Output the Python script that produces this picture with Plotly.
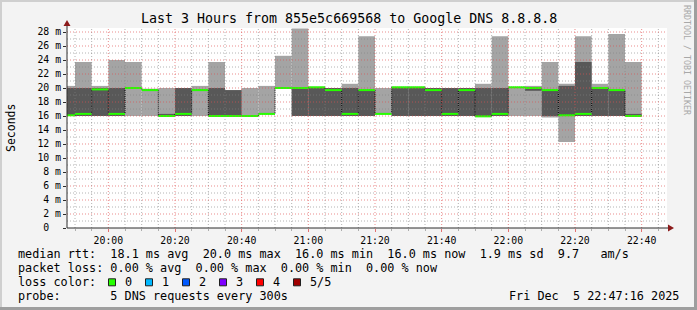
import plotly.graph_objects as go
import pandas as pd

# ---------------- data ----------------
title_text = "Last 3 Hours from 855e5c669568 to Google DNS 8.8.8.8"
first_bin_start = "2025-12-05 19:45:00"
step_seconds = 300
view_start = "2025-12-05 19:47:36"
view_end = "2025-12-05 22:47:36"

# five sorted pings per 5-minute bin (ms)
ping_min = [16, 16, 16, 16, 16, 16, 16, 16, 16, 16, 16, 16, 16.3, 20, 16, 16, 16, 16,
            16, 16.3, 16, 16, 16, 16, 16, 15.9, 16, 16, 16, 15.8, 12.3, 16, 16, 16, 16]
ping_lo = [16, 16, 16, 16, 20, 19.7, 16, 16, 19.7, 16, 16, 16, 16.3, 20, 16, 16, 16, 16,
           16, 16.3, 16, 16, 16, 16, 16, 15.9, 16, 20.1, 19.6, 16, 16, 16, 16, 16, 16]
median = [16.1, 16.3, 19.8, 16.3, 20.0, 19.7, 16.0, 16.3, 19.7, 16.0, 16.0, 16.0, 16.3, 20.0,
          20.0, 20.1, 19.7, 16.3, 19.7, 16.3, 20.1, 20.1, 19.7, 16.3, 19.7, 15.95, 16.3, 20.1,
          20.0, 19.7, 16.1, 16.3, 20.0, 19.7, 16.0]
ping_hi = [20, 20, 20, 20, 20, 19.7, 16.3, 20, 19.7, 20, 19.7, 16, 16.3, 20, 20, 20.1, 20, 20,
           19.7, 16.3, 20.1, 20.1, 20, 20, 20, 20, 20, 20.1, 20.0, 19.7, 20.3, 23.7, 20.1, 19.7, 16.3]
ping_max = [20.3, 23.7, 20.3, 24.0, 23.7, 19.9, 20.0, 20, 20.3, 23.7, 19.7, 20.0, 20.3, 24.6,
            28.5, 20.1, 20, 20.6, 27.4, 20.0, 20.1, 20.1, 20, 20, 20, 20.6, 27.4, 20.1, 20.3, 23.7,
            20.6, 27.4, 20.6, 27.7, 23.7]

ytick_vals = [0, 2, 4, 6, 8, 10, 12, 14, 16, 18, 20, 22, 24, 26, 28]
ytick_text = ["0\u00a0\u00a0", "2 m", "4 m", "6 m", "8 m", "10 m", "12 m", "14 m", "16 m",
              "18 m", "20 m", "22 m", "24 m", "26 m", "28 m"]

legend_rows = [
    "median rtt:  18.1 ms avg  20.0 ms max  16.0 ms min  16.0 ms now  1.9 ms sd  9.7   am/s",
    "packet loss: 0.00 % avg  0.00 % max  0.00 % min  0.00 % now",
    "loss color:",
    "probe:       5 DNS requests every 300s",
]
date_text = "Fri Dec  5 22:47:16 2025"
loss_labels = ["0", "1", "2", "3", "4", "5/5"]
loss_colors = ["#26ff00", "#00b8ff", "#0059ff", "#7e00ff", "#ff0000", "#a00000"]

# ---------------- geometry helpers ----------------
W, H = 697, 310
PL, PR, PT, PB = 67, 667, 28, 228
YMAX = (PB - PT) / 7.0


def px(x):
    return (x - PL) / (PR - PL)


def py(y):
    return (PB - y) / (PB - PT)


MONO = "DejaVu Sans Mono"
LIGHT = "#a4a4a4"
DARK = "#585858"
GREEN = "#26ff00"

n = len(median)
starts = pd.date_range(first_bin_start, periods=n, freq=f"{step_seconds}s")
ends = starts + pd.Timedelta(seconds=step_seconds)
centers = starts + pd.Timedelta(seconds=step_seconds / 2)
width_ms = step_seconds * 1000

fig = go.Figure()
fig.add_trace(go.Bar(x=centers, base=ping_min,
                     y=[b - a for a, b in zip(ping_min, ping_max)],
                     width=width_ms, marker=dict(color=LIGHT, line=dict(width=0)),
                     hoverinfo="skip"))
fig.add_trace(go.Bar(x=centers, base=ping_lo,
                     y=[b - a for a, b in zip(ping_lo, ping_hi)],
                     width=width_ms, marker=dict(color=DARK, line=dict(width=0)),
                     hoverinfo="skip"))
# median step (dotted black verticals)
fig.add_trace(go.Scatter(x=list(starts) + [ends[-1]], y=median + [median[-1]],
                         mode="lines", line=dict(shape="hv", color="#000000", width=1,
                                                 dash="1px,1px"),
                         hoverinfo="skip"))
# loss-coloured median segments
gx, gy = [], []
for s, e, m in zip(starts, ends, median):
    gx += [s, e, None]
    gy += [m, m, None]
fig.add_trace(go.Scatter(x=gx, y=gy, mode="lines",
                         line=dict(color=GREEN, width=2), hoverinfo="skip"))

shapes = []
MINOR_C = "rgba(130,130,130,0.6)"
MAJOR_C = "rgba(222,80,80,0.65)"
# grid on top of the data
t_grid = pd.date_range("2025-12-05 19:50:00", "2025-12-05 22:45:00", freq="5min")
for t in t_grid:
    major = (t.minute % 20 == 0)
    shapes.append(dict(type="line", xref="x", yref="paper", x0=t, x1=t, y0=0, y1=1,
                       layer="above",
                       line=dict(color=MAJOR_C if major else MINOR_C, width=1, dash="1px,2px")))
for v in range(1, 29):
    major = (v % 2 == 0)
    shapes.append(dict(type="line", xref="paper", yref="y", x0=0, x1=1, y0=v, y1=v,
                       layer="above",
                       line=dict(color=MAJOR_C if major else MINOR_C, width=1, dash="1px,2px")))
# axes with arrows
AX = "#2c2c2c"
ARROW = "#8b1a1a"
shapes.append(dict(type="line", xref="paper", yref="paper", x0=px(PL), x1=px(670),
                   y0=0, y1=0, layer="above", line=dict(color=AX, width=1)))
shapes.append(dict(type="line", xref="paper", yref="paper", x0=0, x1=0,
                   y0=0, y1=py(24), layer="above", line=dict(color=AX, width=1)))
shapes.append(dict(type="path", xref="paper", yref="paper", layer="above",
                   path=f"M {px(668)} {py(224.5)} L {px(674)} {py(228)} L {px(668)} {py(231.5)} Z",
                   fillcolor=ARROW, line=dict(color=ARROW, width=0)))
shapes.append(dict(type="path", xref="paper", yref="paper", layer="above",
                   path=f"M {px(63.5)} {py(26)} L {px(67)} {py(20)} L {px(70.5)} {py(26)} Z",
                   fillcolor=ARROW, line=dict(color=ARROW, width=0)))
# 3D frame of the image
shapes.append(dict(type="rect", xref="paper", yref="paper", layer="above",
                   x0=px(0), x1=px(W), y0=py(0), y1=py(2),
                   fillcolor="#cfcfcf", line=dict(width=0)))
shapes.append(dict(type="rect", xref="paper", yref="paper", layer="above",
                   x0=px(0), x1=px(2), y0=py(0), y1=py(H),
                   fillcolor="#cfcfcf", line=dict(width=0)))
shapes.append(dict(type="rect", xref="paper", yref="paper", layer="above",
                   x0=px(0), x1=px(W), y0=py(H - 3), y1=py(H),
                   fillcolor="#9e9e9e", line=dict(width=0)))
shapes.append(dict(type="rect", xref="paper", yref="paper", layer="above",
                   x0=px(W - 3), x1=px(W), y0=py(0), y1=py(H),
                   fillcolor="#9e9e9e", line=dict(width=0)))

annotations = []


def ann(text, x, y, size=11.8, xanchor="left", color="#000000", angle=0):
    annotations.append(dict(text=text.replace(" ", "\u00a0"), x=px(x), y=py(y),
                            xref="paper", yref="paper", xanchor=xanchor, yanchor="middle",
                            showarrow=False, textangle=angle,
                            font=dict(family=MONO, size=size, color=color)))


ann(title_text, W / 2, 18.5, size=13.3, xanchor="center")
ann("Seconds", 11, 128, size=11.5, xanchor="center", angle=-90)
ann("RRDTOOL / TOBI OETIKER", 687, 60, size=8.3, xanchor="center", color="#a8a8a8", angle=90)

row_y = [254.3, 268.3, 282.3, 296.3]
for txt, yy in zip(legend_rows, row_y):
    ann(txt, 16, yy)
ann(date_text, 681, row_y[3], xanchor="right")

for i, (lab, col) in enumerate(zip(loss_labels, loss_colors)):
    x0 = 108.5 + 37 * i
    shapes.append(dict(type="rect", xref="paper", yref="paper", layer="above",
                       x0=px(x0), x1=px(x0 + 7), y0=py(row_y[2] - 3.5), y1=py(row_y[2] + 3.5),
                       fillcolor=col, line=dict(color="#202020", width=1)))
    ann(lab, x0 + 14.5, row_y[2])

fig.update_layout(
    width=W, height=H,
    margin=dict(l=PL, r=W - PR, t=PT, b=H - PB, pad=0),
    paper_bgcolor="#f3f3f3", plot_bgcolor="#ffffff",
    barmode="overlay", showlegend=False,
    shapes=shapes, annotations=annotations,
    xaxis=dict(type="date", range=[view_start, view_end], tickformat="%H:%M",
               tick0="2025-12-05 20:00:00", dtick=1200000,
               showgrid=False, zeroline=False, showline=False,
               ticks="outside", ticklen=3, tickcolor="rgba(222,80,80,0.8)",
               tickfont=dict(family=MONO, size=9.8, color="#000000"),
               minor=dict(ticks="outside", dtick=300000, ticklen=2,
                          tickcolor="rgba(143,143,143,0.7)", showgrid=False),
               fixedrange=True),
    yaxis=dict(range=[0, YMAX], tickvals=ytick_vals, ticktext=ytick_text,
               showgrid=False, zeroline=False, showline=False,
               ticks="outside", ticklen=3, tickcolor="#2c2c2c",
               tickfont=dict(family=MONO, size=9.8, color="#000000"),
               fixedrange=True),
)

fig.write_html("out.html")
